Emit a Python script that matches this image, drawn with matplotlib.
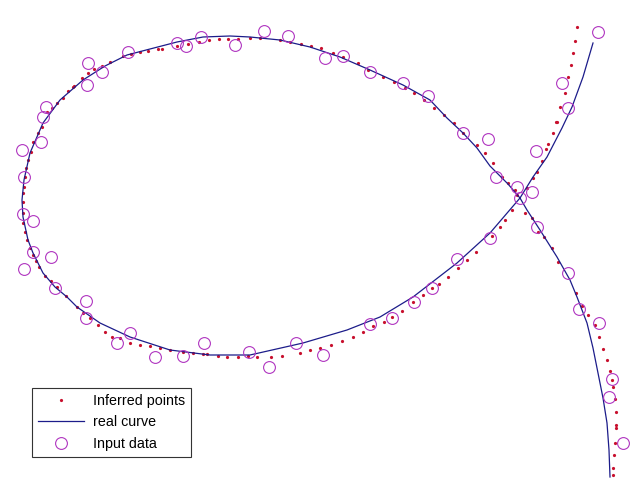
import matplotlib
matplotlib.use("Agg")
import matplotlib.pyplot as plt

# Values, in image pixel units (y grows downward)

# real curve, traced from the lower right, through the loop, out the upper right
curve_x = [610, 609, 607, 603, 598, 593, 587, 577, 570, 557, 540, 527, 520, 508,
           490, 477, 463, 447, 430, 403, 370, 340, 310, 280, 250, 230, 203, 177,
           150, 127, 105, 83, 60, 43, 30, 24, 22, 23, 28, 33, 43, 55, 67, 77, 100,
           130, 170, 210, 250, 303, 347, 380, 413, 457, 490, 508, 520, 533, 547,
           562, 572, 583, 593]
curve_y = [477, 450, 423, 398, 373, 348, 323, 297, 280, 257, 230, 210, 198, 184,
           166, 148, 133, 118, 100, 85, 70, 57, 47, 40, 37, 36, 37, 42,
           49, 55, 66, 80, 100, 123, 153, 180, 200, 217, 240, 253, 273, 287, 297,
           307, 323, 337, 350, 355, 355, 343, 330, 317, 297, 263, 233, 212, 198,
           177, 157, 128, 107, 77, 43]

# inferred points
inferred_x = [63, 68, 74, 82, 88, 94, 102, 110, 123, 131, 140, 148, 158, 162, 177,
              188, 199, 209, 219, 228, 238, 250, 260,
              280, 290, 301, 311, 321, 333, 343, 358, 368, 383, 394, 405, 414, 424,
              434, 444, 454, 463, 477,
              485, 493, 502, 508, 515, 527, 533, 537, 542, 546, 548, 553, 556,
              557, 560, 565, 568, 571, 573, 575, 577,
              525, 532, 538, 544, 552, 558, 576, 582, 588, 595, 599, 603, 607, 610,
              612, 613, 615, 616, 616, 616, 615, 614, 613, 613,
              517, 512, 505, 500, 492, 476, 467, 458, 448, 439, 432, 423, 413, 402,
              392, 384,
              183, 193, 203, 207, 218, 227, 238, 248, 257, 271, 282, 300, 310, 320,
              331, 342, 353, 363, 373,
              23, 23, 23, 23, 25, 27, 30, 33, 36, 39, 45, 51, 57, 66, 77, 83, 90,
              98, 105, 112, 120, 130, 140, 150, 160, 170,
              73, 57, 52, 47, 42, 38, 33, 31, 28, 26, 25, 24]
inferred_y = [98, 91, 86, 78, 73, 69, 66, 62, 56, 54, 52, 51, 49, 49, 46,
              44, 42, 40, 39, 39, 39, 38, 38,
              40, 42, 44, 46, 48, 53, 57, 63, 70, 77, 82, 88, 93, 100,
              108, 115, 123, 133, 145,
              153, 163, 177, 183, 190, 188, 178, 172, 161, 149, 144, 133, 122,
              122, 107, 93, 77, 65, 53, 41, 27,
              213, 218, 232, 237, 248, 262, 293, 306, 315, 325, 337, 349, 360, 371,
              380, 387, 399, 412, 425, 428, 443, 455, 468, 475,
              195, 210, 220, 227, 236, 252, 260, 268, 277, 284, 288, 295, 302, 311,
              317, 322,
              352, 353, 354, 354, 356, 357, 357, 356, 357, 357, 356, 353, 350, 348,
              345, 341, 337, 332, 326,
              193, 202, 213, 223, 232, 240, 248, 255, 261, 267, 276, 281, 287, 296,
              307, 313, 318, 325, 332, 337, 338, 343, 345, 346, 348, 350,
              87, 103, 108, 112, 127, 133, 142, 152, 160, 168, 177, 187]

# noisy input data
input_x = [88, 102, 87, 128, 177, 186, 201, 235, 264,
           288, 325, 343, 370, 403, 428, 463, 488,
           536, 496, 517, 532, 520, 537, 568, 598, 562, 568,
           579, 599, 612, 609, 623,
           490, 457, 432, 414, 392,
           204, 183, 249, 269, 296, 323, 370,
           23, 33, 33, 51, 24, 55, 86, 86, 130, 117, 155,
           46, 43, 41, 22, 24]
input_y = [63, 72, 85, 52, 43, 46, 37, 45, 31,
           36, 58, 56, 72, 83, 96, 133, 139,
           151, 177, 187, 192, 198, 227, 273, 32, 83, 108,
           309, 323, 379, 397, 443,
           238, 259, 288, 302, 318,
           343, 356, 352, 367, 343, 355, 324,
           214, 221, 252, 257, 269, 288, 301, 318, 333, 343, 357,
           107, 117, 142, 150, 177]

fig = plt.figure(figsize=(6.37, 4.8), dpi=100)
ax = fig.add_axes([0, 0, 1, 1])

ax.plot(inferred_x, inferred_y, linestyle='none', marker='o', markersize=2.3,
        markeredgewidth=0, color='#c8102e', label='Inferred points')
ax.plot(curve_x, curve_y, color='#1c1c8a', linewidth=0.9, label='real curve')
ax.plot(input_x, input_y, linestyle='none', marker='o', markersize=8.5,
        markerfacecolor='none', markeredgewidth=0.8, markeredgecolor='#b035c0',
        label='Input data')

ax.set_xlim(0, 637)
ax.set_ylim(480, 0)
ax.axis('off')

leg = ax.legend(loc='lower left', bbox_to_anchor=(0.05, 0.048), borderaxespad=0,
                fancybox=False, framealpha=1, edgecolor='#333333', borderpad=0.45,
                handlelength=3.2, handletextpad=0.6, labelspacing=0.5,
                prop={'family': 'Liberation Sans', 'size': 10.3})
leg.get_frame().set_linewidth(0.8)

fig.savefig('out.png', dpi=100, facecolor='white')
